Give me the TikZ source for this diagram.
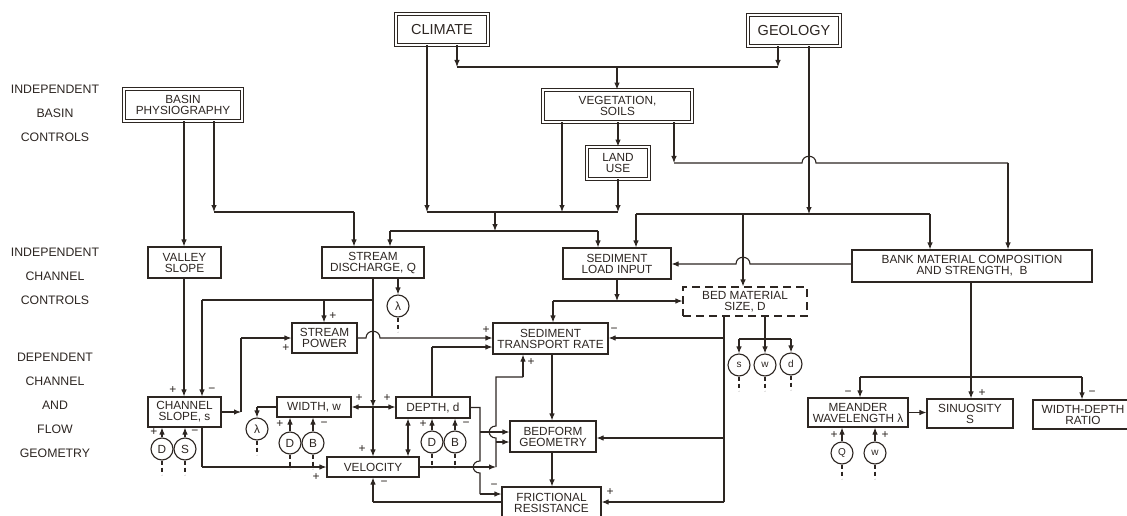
\documentclass[tikz,border=0pt]{standalone}
\usepackage{fontspec}
\setmainfont{Liberation Sans}
\usetikzlibrary{arrows.meta}
\definecolor{ink}{RGB}{45,38,34}
\newcommand\boxfont{\fontsize{11.8}{11}\selectfont}
\newcommand\bigfont{\fontsize{14.5}{15}\selectfont}
\newcommand\labfont{\fontsize{12.3}{13}\selectfont}
\newcommand\signfont{\fontsize{12}{10}\selectfont}
\newcommand\tinyfont{\fontsize{10}{10}\selectfont}
\tikzset{
  box/.style={draw, rectangle, inner sep=0pt, align=center, font=\boxfont},
  dbox/.style={box, double, double distance=2.4pt, line width=0.8pt},
  circ/.style={draw, circle, minimum size=22pt, inner sep=0pt, font=\boxfont},
  arr/.style={-{Latex[length=7pt,width=5.5pt]}},
  arrb/.style={{Latex[length=7pt,width=5.5pt]}-{Latex[length=7pt,width=5.5pt]}},
  dsh/.style={dash pattern=on 4pt off 3pt},
  sg/.style={font=\signfont, inner sep=0pt},
  lab/.style={font=\labfont, inner sep=0pt},
}
\begin{document}
\begin{tikzpicture}[x=1pt,y=-1pt,line width=1.1pt,color=ink]
\useasboundingbox[fill=white] (0,0) rectangle (1127,516);

% ---- side labels
\node[lab] (l1) at (55,89) {INDEPENDENT};
\node[lab] (l2) at (55,113) {BASIN};
\node[lab] (l3) at (55,137) {CONTROLS};
\node[lab] (l4) at (55,252) {INDEPENDENT};
\node[lab] (l5) at (55,276) {CHANNEL};
\node[lab] (l6) at (55,300) {CONTROLS};
\node[lab] (l7) at (55,357) {DEPENDENT};
\node[lab] (l8) at (55,381) {CHANNEL};
\node[lab] (l9) at (55,405) {AND};
\node[lab] (l10) at (55,429) {FLOW};
\node[lab] (l11) at (55,453) {GEOMETRY};

% ---- boxes
\node[dbox, minimum width=92pt, minimum height=31pt, font=\bigfont] (climate) at (442,29.5) {CLIMATE};
\node[dbox, minimum width=92pt, minimum height=31pt, font=\bigfont] (geology) at (794,30.5) {GEOLOGY};
\node[dbox, minimum width=118pt, minimum height=32pt] (basin) at (183,105) {BASIN\\PHYSIOGRAPHY};
\node[dbox, minimum width=149pt, minimum height=32pt] (veg) at (617.5,106) {VEGETATION,\\SOILS};
\node[dbox, minimum width=62pt, minimum height=32pt] (landuse) at (618,163) {LAND\\USE};
\node[box, minimum width=73pt, minimum height=31pt] (valley) at (184.5,262.5) {VALLEY\\SLOPE};
\node[box, minimum width=102pt, minimum height=31pt] (discharge) at (373,262.5) {STREAM\\DISCHARGE, Q};
\node[box, minimum width=108pt, minimum height=31pt] (sedload) at (617,263.5) {SEDIMENT\\LOAD INPUT};
\node[box, minimum width=240pt, minimum height=32pt] (bank) at (972,266) {BANK MATERIAL COMPOSITION\\AND STRENGTH,\ \ B};
\node[box, dash pattern=on 8pt off 5pt, minimum width=124pt, minimum height=29pt] (bed) at (745,301.5) {BED MATERIAL\\SIZE, D};
\node[box, minimum width=65pt, minimum height=30pt] (power) at (324.5,338) {STREAM\\POWER};
\node[box, minimum width=115pt, minimum height=31pt] (transport) at (550.5,338.5) {SEDIMENT\\TRANSPORT RATE};
\node[box, minimum width=73pt, minimum height=30pt] (chslope) at (184.5,412) {CHANNEL\\SLOPE, s};
\node[box, minimum width=74pt, minimum height=20pt] (width) at (314,407) {WIDTH, w};
\node[box, minimum width=74pt, minimum height=21pt] (depth) at (433,407.5) {DEPTH, d};
\node[box, minimum width=92pt, minimum height=20pt] (velocity) at (373,467) {VELOCITY};
\node[box, minimum width=86pt, minimum height=31pt] (bedform) at (553,436.5) {BEDFORM\\GEOMETRY};
\node[box, minimum width=99pt, minimum height=32pt] (friction) at (551.5,503) {FRICTIONAL\\RESISTANCE};
\node[box, minimum width=100pt, minimum height=29pt] (meander) at (858,412.5) {MEANDER\\WAVELENGTH λ};
\node[box, minimum width=86pt, minimum height=29pt] (sinuosity) at (970,413.5) {SINUOSITY\\S};
\node[box, minimum width=100pt, minimum height=29pt] (wdratio) at (1083,414.5) {WIDTH-DEPTH\\RATIO};

% ---- circles
\node[circ] (lamQ) at (398,306) {λ};
\node[circ] (lamW) at (257,429) {λ};
\node[circ] (cD1) at (162,449) {D};
\node[circ] (cS1) at (185,449) {S};
\node[circ] (cD2) at (290,443) {D};
\node[circ] (cB2) at (313,443) {B};
\node[circ] (cD3) at (432,442) {D};
\node[circ] (cB3) at (455,442) {B};
\node[circ, font=\tinyfont] (cs) at (739,365) {s};
\node[circ, font=\tinyfont] (cw) at (765,365) {w};
\node[circ, font=\tinyfont] (cd) at (791,364) {d};
\node[circ, font=\tinyfont] (cQ) at (842,453) {Q};
\node[circ, font=\tinyfont] (cw2) at (875,453) {w};

% ---- climate & geology -> vegetation
\draw[arr] (457,0 |- climate.south) -- (457,67);
\draw[arr] (778,0 |- geology.south) -- (778,67);
\draw (457,67) -- (778,67);
\draw[arr] (617,67) -- (617,0 |- veg.north);
% climate, vegetation, land use -> discharge & sediment load
\draw[arr] (427,0 |- climate.south) -- (427,212);
\draw[arr] (562,0 |- veg.south) -- (562,212);
\draw[arr] (landuse.south) -- (618,212);
\draw (427,212) -- (618,212);
\draw[arr] (495,212) -- (495,231);
\draw (390,231) -- (598,231);
\draw[arr] (390,231) -- (390,0 |- discharge.north);
\draw[arr] (598,231) -- (598,0 |- sedload.north);
\draw[arr] (618,0 |- veg.south) -- (landuse.north);
% vegetation -> bank (jump over geology line)
\draw[arr] (674,0 |- veg.south) -- (674,163);
\draw (674,163) -- (802,163) .. controls (802,154) and (816,154) .. (816,163) -- (1008,163);
\draw[arr] (1008,163) -- (1008,0 |- bank.north);
% geology -> sediment load, bed material, bank
\draw[arr] (809,0 |- geology.south) -- (809,214);
\draw (636,214) -- (930,214);
\draw[arr] (636,214) -- (636,0 |- sedload.north);
\draw[arr] (743,214) -- (743,0 |- bed.north);
\draw[arr] (930,214) -- (930,0 |- bank.north);
% bank -> sediment load (jump)
\draw[arr] (bank.west |- 0,264) -- (750,264) .. controls (750,255) and (736,255) .. (736,264) -- (sedload.east |- 0,264);
% basin
\draw[arr] (184,0 |- basin.south) -- (184,0 |- valley.north);
\draw[arr] (214,0 |- basin.south) -- (214,212);
\draw (214,212) -- (354,212);
\draw[arr] (354,212) -- (354,0 |- discharge.north);
% valley -> channel slope
\draw[arr] (184,0 |- valley.south) -- (184,0 |- chslope.north);

% ---- discharge
\draw (373,0 |- discharge.south) -- (373,300);
\draw (373,300) -- (202,300);
\draw[arr] (202,300) -- (202,0 |- chslope.north);
\draw[arr] (324,300) -- (324,0 |- power.north);
\draw[arr] (373,300) -- (373,407);
\draw[arr] (373,407) -- (width.east);
\draw[arr] (373,407) -- (depth.west |- 0,407);
\draw[arr] (373,407) -- (velocity.north);
\draw[arr] (398,0 |- discharge.south) -- (lamQ.north);

% ---- channel slope -> stream power, velocity
\draw[arr] (chslope.east) -- (241,412);
\draw (241,412) -- (241,338);
\draw[arr] (241,338) -- (power.west);
\draw (202,0 |- chslope.south) -- (202,467);
\draw[arr] (202,467) -- (velocity.west);

% ---- stream power -> transport (jump)
\draw[arr] (power.east) -- (366,338) .. controls (366,329) and (380,329) .. (380,338) -- (transport.west |- 0,338);
% depth -> transport
\draw (432,0 |- depth.north) -- (432,347);
\draw[arr] (432,347) -- (transport.west |- 0,347);

% ---- sediment load -> transport & bed material
\draw[arr] (617,0 |- sedload.south) -- (617,301);
\draw (553,301) -- (617,301);
\draw[arr] (617,301) -- (bed.west |- 0,301);
\draw[arr] (553,301) -- (553,0 |- transport.north);

% ---- bed material -> transport, bedform, friction
\draw (724,0 |- bed.south) -- (724,502);
\draw[arr] (724,338) -- (transport.east |- 0,338);
\draw[arr] (724,438) -- (bedform.east |- 0,438);
\draw[arr] (724,502) -- (friction.east |- 0,502);
% bed material -> s, w, d
\draw[arr] (765,0 |- bed.south) -- (cw.north);
\draw (739,339) -- (791,339);
\draw[arr] (739,339) -- (cs.north);
\draw[arr] (791,339) -- (cd.north);

% ---- transport -> bedform -> friction
\draw[arr] (552,0 |- transport.south) -- (552,0 |- bedform.north);
\draw[arr] (552,0 |- bedform.south) -- (552,0 |- friction.north);

% ---- width -> lambda
\draw (width.west) -- (257,407);
\draw[arr] (257,407) -- (lamW.north);
% depth <-> velocity
\draw[arrb] (408,0 |- depth.south) -- (408,0 |- velocity.north);

% ---- depth -> bedform, friction (jump over velocity line)
\draw (depth.east) -- (480,0 |- depth.east) -- (480,461) .. controls (471,461) and (471,473) .. (480,473) -- (480,494);
\draw[arr] (480,494) -- (friction.west |- 0,494);
\draw[arr] (480,432) -- (bedform.west |- 0,432);
% ---- velocity -> transport, bedform (jump over depth line)
\draw[arr] (velocity.east) -- (496,467);
\draw (496,467) -- (496,438) .. controls (487,438) and (487,426) .. (496,426) -- (496,377) -- (523,377);
\draw[arr] (523,377) -- (523,0 |- transport.south);
\draw[arr] (496,442) -- (bedform.west |- 0,442);
% ---- friction -> velocity
\draw (friction.west |- 0,502) -- (373,502);
\draw[arr] (373,502) -- (velocity.south);

% ---- bank -> meander, sinuosity, width-depth
\draw[arr] (971,0 |- bank.south) -- (971,0 |- sinuosity.north);
\draw (860,377) -- (1082,377);
\draw[arr] (860,377) -- (860,0 |- meander.north);
\draw[arr] (1082,377) -- (1082,0 |- wdratio.north);
\draw[arr] (meander.east) -- (sinuosity.west |- meander.east);

% ---- circle inputs
\draw[arr] (cD1.north) -- (162,0 |- chslope.south);
\draw[arr] (cS1.north) -- (185,0 |- chslope.south);
\draw[arr] (cD2.north) -- (290,0 |- width.south);
\draw[arr] (cB2.north) -- (313,0 |- width.south);
\draw[arr] (cD3.north) -- (432,0 |- depth.south);
\draw[arr] (cB3.north) -- (455,0 |- depth.south);
\draw[arr] (cQ.north) -- (842,0 |- meander.south);
\draw[arr] (cw2.north) -- (875,0 |- meander.south);

% ---- dashed stubs
\foreach \c in {lamQ,lamW,cD1,cS1,cD2,cB2,cD3,cB3,cs,cw,cd,cQ,cw2}
  \draw[dsh] (\c.south) -- ++(0,14);

% ---- signs
\node[sg] (s1) at (333,316) {+};
\node[sg] (s2) at (286,348) {+};
\node[sg] (s3) at (486,330) {+};
\node[sg] (s4) at (614,330) {−};
\node[sg] (s5) at (531,362) {+};
\node[sg] (s6) at (359,398) {+};
\node[sg] (s7) at (387,398) {+};
\node[sg] (s8) at (362,449) {+};
\node[sg] (s9) at (316,477) {+};
\node[sg] (s10) at (384,483) {−};
\node[sg] (s11) at (494,486) {−};
\node[sg] (s12) at (610,492) {+};
\node[sg] (s13) at (173,390) {+};
\node[sg] (s14) at (212,390) {−};
\node[sg] (s15) at (154,432) {+};
\node[sg] (s16) at (195,432) {−};
\node[sg] (s17) at (280,424) {+};
\node[sg] (s18) at (324,424) {−};
\node[sg] (s19) at (423,424) {+};
\node[sg] (s20) at (466,424) {−};
\node[sg] (s21) at (848,393) {−};
\node[sg] (s22) at (982,393) {+};
\node[sg] (s23) at (1092,393) {−};
\node[sg] (s24) at (834,435) {+};
\node[sg] (s25) at (885,435) {+};
\end{tikzpicture}
\end{document}
